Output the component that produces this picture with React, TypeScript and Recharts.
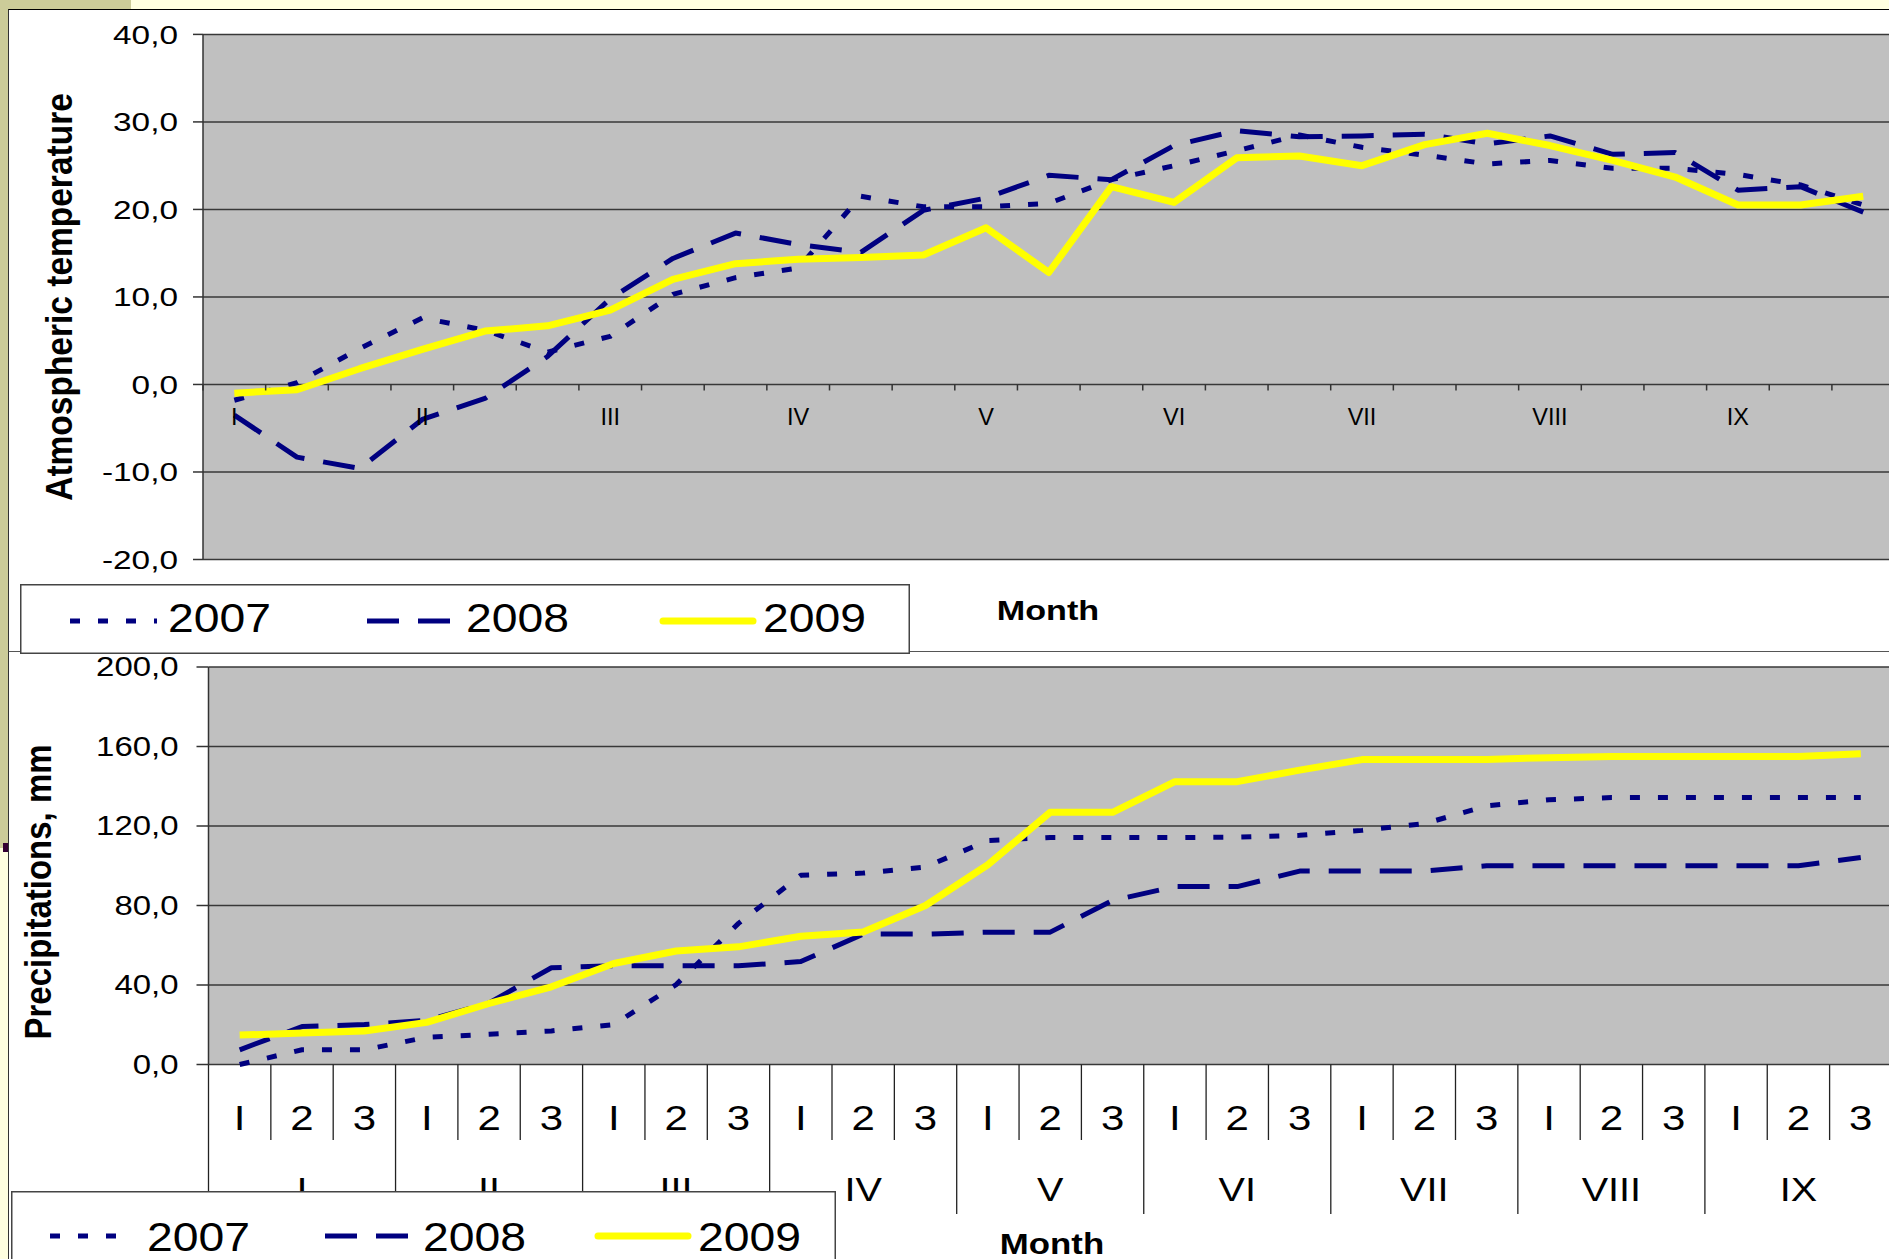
import { CartesianGrid, Line, LineChart, XAxis, YAxis } from 'recharts';

// ten-day periods (decades) inside each month, Roman month names
const MONTHS = ['I', 'II', 'III', 'IV', 'V', 'VI', 'VII', 'VIII', 'IX'];
const DECADES = ['I', '2', '3'];
const YEARS = ['2007', '2008', '2009'];

// atmospheric temperature, °C
const TEMP_2007 = [-1.8, 0.2, 4.1, 7.6, 6.2, 3.7, 5.5, 10.3, 12.2, 13.3, 21.5, 20.3, 20.3, 20.7, 23.4, 25.0, 26.7, 28.5, 27.1, 26.2, 25.2, 25.6, 24.7, 24.7, 24.0, 22.8, 20.5];
const TEMP_2008 = [-3.5, -8.3, -9.6, -4.0, -1.6, 3.2, 9.8, 14.4, 17.3, 16.0, 15.1, 19.9, 21.3, 23.9, 23.4, 27.3, 29.0, 28.3, 28.4, 28.6, 27.5, 28.4, 26.3, 26.5, 22.2, 22.6, 19.7];
const TEMP_2009 = [-1.0, -0.6, 1.8, 4.0, 6.1, 6.7, 8.5, 12.0, 13.8, 14.3, 14.5, 14.8, 17.9, 12.8, 22.6, 20.8, 25.9, 26.1, 25.0, 27.4, 28.7, 27.3, 25.6, 23.7, 20.5, 20.5, 21.5];

// cumulative precipitation, mm
const PREC_2007 = [0, 7.4, 7.4, 13.7, 15.2, 16.9, 20.1, 40.2, 71.0, 95.2, 96.3, 99.4, 112.7, 114.2, 114.2, 114.2, 114.4, 115.3, 117.8, 121.2, 130.1, 133.2, 134.3, 134.3, 134.3, 134.3, 134.3];
const PREC_2008 = [7.4, 19.1, 20.1, 22.2, 31.0, 48.7, 49.7, 49.7, 49.7, 51.8, 65.6, 65.6, 66.6, 66.6, 82.5, 89.5, 89.5, 97.3, 97.3, 97.3, 100.0, 100.0, 100.0, 100.0, 100.0, 100.0, 104.2];
const PREC_2009 = [14.8, 15.8, 16.9, 21.2, 30.7, 39.1, 50.8, 57.1, 59.2, 64.5, 66.7, 80.0, 100.5, 126.9, 126.9, 142.3, 142.3, 148.1, 153.4, 153.4, 153.5, 154.4, 155.0, 155.0, 155.0, 155.0, 156.3];

const TEMP_TICKS = [-20, -10, 0, 10, 20, 30, 40];
const PREC_TICKS = [0, 40, 80, 120, 160, 200];

const FONT = '"Liberation Sans", Arial, sans-serif';
const NAVY = '#000080';
const SERIES_STYLE = [
  { stroke: NAVY, width: 5, dash: '10 18' },
  { stroke: NAVY, width: 5, dash: '32 19' },
  { stroke: '#ffff00', width: 7, dash: undefined },
];

const cats = MONTHS.flatMap((m) => DECADES.map((d) => `${m}.${d}`));
const tempData = cats.map((c, i) => ({ c, y2007: TEMP_2007[i], y2008: TEMP_2008[i], y2009: TEMP_2009[i] }));
const precData = cats.map((c, i) => ({ c, y2007: PREC_2007[i], y2008: PREC_2008[i], y2009: PREC_2009[i] }));

const comma = (v: number) => v.toFixed(1).replace('.', ',');

// chart geometry (top chart svg sits at page 0,0; bottom chart svg at y=652)
const TOP = { w: 1900, h: 652, left: 203, top: 34.4, bottom: 559.5, band: 62.65, axisH: 40 };
const BOT = { y: 652, w: 1900, h: 607, left: 208.5, top: 15, bottom: 412.5, band: 62.35, axisH: 150 };
const TOP_ZERO = TOP.top + (TEMP_TICKS[TEMP_TICKS.length - 1] / (TEMP_TICKS[TEMP_TICKS.length - 1] - TEMP_TICKS[0])) * (TOP.bottom - TOP.top);
const BOT_ZERO = BOT.bottom;

function ValueTick({ x, y, payload, size, sx }: any) {
  return (
    <text transform={`translate(${x},${y}) scale(${sx},1)`} textAnchor="end" dominantBaseline="central" fontSize={size} fontFamily={FONT} fill="#000">
      {comma(payload.value)}
    </text>
  );
}

function TempTick({ x, index, payload }: any) {
  const i = payload?.index ?? index;
  const b = TOP.band / 2;
  return (
    <g>
      <line x1={x - b} x2={x - b} y1={TOP_ZERO} y2={TOP_ZERO + 6} stroke="#333" strokeWidth={1.5} />
      {i % 3 === 0 && (
        <text x={x} y={TOP_ZERO + 32.5} textAnchor="middle" dominantBaseline="central" fontSize={23.5} fontFamily={FONT} fill="#000">
          {MONTHS[i / 3]}
        </text>
      )}
    </g>
  );
}

function PrecTick({ x, index, payload }: any) {
  const i = payload?.index ?? index;
  const b = BOT.band / 2;
  const long = 149.5;
  const short = 75.5;
  return (
    <g>
      <line x1={x - b} x2={x - b} y1={BOT_ZERO} y2={BOT_ZERO + (i % 3 === 0 ? long : short)} stroke="#222" strokeWidth={1.3} />
      {i === cats.length - 1 && <line x1={x + b} x2={x + b} y1={BOT_ZERO} y2={BOT_ZERO + long} stroke="#222" strokeWidth={1.3} />}
      <text transform={`translate(${x},${BOT_ZERO + 53}) scale(1.2,1)`} textAnchor="middle" dominantBaseline="central" fontSize={35} fontFamily={FONT} fill="#000">
        {DECADES[i % 3]}
      </text>
      {i % 3 === 1 && (
        <text transform={`translate(${x},${BOT_ZERO + 125.5}) scale(1.2,1)`} textAnchor="middle" dominantBaseline="central" fontSize={33} fontFamily={FONT} fill="#000">
          {MONTHS[(i - 1) / 3]}
        </text>
      )}
    </g>
  );
}

function LegendBox({ x, y, w, h, cy, base, lines, texts }: any) {
  return (
    <svg style={{ position: 'absolute', left: x, top: y }} width={w} height={h}>
      <rect x={0.75} y={0.75} width={w - 1.5} height={h - 1.5} fill="#fff" stroke="#444" strokeWidth={1.5} />
      {YEARS.map((yr, k) => (
        <g key={yr}>
          <line
            x1={lines[k][0] - x} x2={lines[k][1] - x} y1={cy - y} y2={cy - y}
            stroke={SERIES_STYLE[k].stroke} strokeWidth={SERIES_STYLE[k].width}
            strokeDasharray={SERIES_STYLE[k].dash} strokeLinecap={SERIES_STYLE[k].dash ? 'butt' : 'round'}
          />
          <text transform={`translate(${texts[k] - x},${base - y}) scale(1.13,1)`} fontSize={41} fontFamily={FONT} fill="#000">
            {yr}
          </text>
        </g>
      ))}
    </svg>
  );
}

function series() {
  return YEARS.map((yr, k) => (
    <Line
      key={yr}
      type="linear"
      dataKey={`y${yr}`}
      name={yr}
      stroke={SERIES_STYLE[k].stroke}
      strokeWidth={SERIES_STYLE[k].width}
      strokeDasharray={SERIES_STYLE[k].dash}
      strokeLinejoin="round"
      dot={false}
      activeDot={false}
      isAnimationActive={false}
    />
  ));
}

export default function App() {
  const topRight = TOP.w - TOP.left - cats.length * TOP.band;
  const botRight = BOT.w - BOT.left - cats.length * BOT.band;
  return (
    <div style={{ position: 'fixed', left: 0, top: 0, width: 1889, height: 1259, overflow: 'hidden', background: '#ffffe0', fontFamily: FONT }}>
      <div style={{ position: 'absolute', left: 0, top: 0, width: 131, height: 10, background: '#cccc99' }} />
      <div style={{ position: 'absolute', left: 0, top: 0, width: 8, height: 848, background: '#cccc99' }} />
      <div style={{ position: 'absolute', left: 3, top: 843, width: 5, height: 9, background: '#330033' }} />
      <div style={{ position: 'absolute', left: 8, top: 9, width: 1881, height: 643, background: '#fff', borderTop: '1.5px solid #000', borderLeft: '1.5px solid #333', boxSizing: 'border-box' }} />
      <div style={{ position: 'absolute', left: 8, top: 651, width: 1881, height: 608, background: '#fff', borderTop: '1.5px solid #555', borderLeft: '1.5px solid #333', boxSizing: 'border-box' }} />

      <div style={{ position: 'absolute', left: 0, top: 0 }}>
        <LineChart width={TOP.w} height={TOP.h} data={tempData} margin={{ top: TOP.top, right: topRight, bottom: TOP.h - TOP.bottom - TOP.axisH, left: 0 }}>
          <CartesianGrid vertical={false} fill="#c0c0c0" stroke="#383838" strokeWidth={1.5} />
          <XAxis
            dataKey="c" height={TOP.axisH} interval={0} axisLine={false} tickLine={false}
            padding={{ left: TOP.band / 2, right: TOP.band / 2 }}
            tick={(p: any) => <TempTick {...p} />}
          />
          <YAxis
            width={TOP.left} domain={[TEMP_TICKS[0], TEMP_TICKS[TEMP_TICKS.length - 1]]} ticks={TEMP_TICKS} interval={0}
            tickSize={10} tickMargin={15}
            axisLine={{ stroke: '#333', strokeWidth: 1.5 }} tickLine={{ stroke: '#333', strokeWidth: 1.5 }}
            tick={(p: any) => <ValueTick {...p} size={26.5} sx={1.26} />}
          />
          {series()}
        </LineChart>
      </div>

      <div style={{ position: 'absolute', left: 0, top: BOT.y }}>
        <LineChart width={BOT.w} height={BOT.h} data={precData} margin={{ top: BOT.top, right: botRight, bottom: BOT.h - BOT.bottom - BOT.axisH, left: 0 }}>
          <CartesianGrid vertical={false} fill="#c0c0c0" stroke="#383838" strokeWidth={1.5} />
          <XAxis
            dataKey="c" height={BOT.axisH} interval={0} axisLine={false} tickLine={false}
            padding={{ left: BOT.band / 2, right: BOT.band / 2 }}
            tick={(p: any) => <PrecTick {...p} />}
          />
          <YAxis
            width={BOT.left} domain={[PREC_TICKS[0], PREC_TICKS[PREC_TICKS.length - 1]]} ticks={PREC_TICKS} interval={0}
            tickSize={12} tickMargin={18}
            axisLine={{ stroke: '#333', strokeWidth: 1.5 }} tickLine={{ stroke: '#333', strokeWidth: 1.5 }}
            tick={(p: any) => <ValueTick {...p} size={27} sx={1.22} />}
          />
          {series()}
        </LineChart>
      </div>

      <svg style={{ position: 'absolute', left: 0, top: 0, pointerEvents: 'none' }} width={1889} height={1259}>
        <text transform="translate(72,297) scale(1.1,1) rotate(-90)" textAnchor="middle" fontWeight="bold" fontSize={33.5} fontFamily={FONT} fill="#000">
          Atmospheric temperature
        </text>
        <text transform="translate(51,892) scale(1.1,1) rotate(-90)" textAnchor="middle" fontWeight="bold" fontSize={33} fontFamily={FONT} fill="#000">
          Precipitations, mm
        </text>
        <text transform="translate(1048,620) scale(1.22,1)" textAnchor="middle" fontWeight="bold" fontSize={28} fontFamily={FONT} fill="#000">
          Month
        </text>
        <text transform="translate(1052,1253.5) scale(1.2,1)" textAnchor="middle" fontWeight="bold" fontSize={29} fontFamily={FONT} fill="#000">
          Month
        </text>
      </svg>

      <LegendBox x={20} y={583.5} w={890} h={70} cy={620.5} base={631.5} lines={[[70, 157], [367, 452], [663, 753]]} texts={[168, 466, 763]} />
      <LegendBox x={11} y={1190.5} w={825} h={75} cy={1235.5} base={1250} lines={[[50, 134], [325, 408], [598, 688]]} texts={[147, 423, 698]} />
    </div>
  );
}
